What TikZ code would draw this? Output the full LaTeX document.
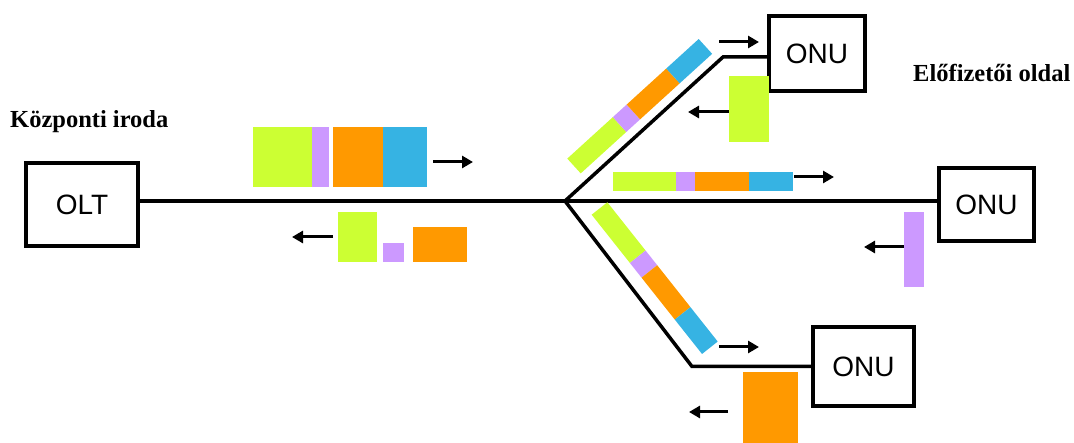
\documentclass[tikz,border=0pt]{standalone}
\usepackage{fontspec}
\setmainfont{Liberation Serif}
\newfontfamily\boxfont{Liberation Sans}
\usetikzlibrary{arrows.meta}
\definecolor{pgreen}{HTML}{CCFF33}
\definecolor{ppurple}{HTML}{CC99FF}
\definecolor{porange}{HTML}{FF9900}
\definecolor{pblue}{HTML}{36B3E3}
\tikzset{
  unitbox/.style={draw, line width=4.5pt, inner sep=0pt, font=\boxfont\fontsize{28}{30}\selectfont},
  fibre/.style={line width=4.5pt},
  branch/.style={line width=3.5pt},
  flow/.style={line width=3pt, -{Triangle[length=11pt,width=12pt]}},
  sidelabel/.style={anchor=base west, inner sep=0pt, font=\bfseries\fontsize{24.5}{26}\selectfont},
}
\newcommand{\smallpacket}{%
  \fill[pgreen] (0,-10) rectangle (61.6,10);
  \fill[ppurple] (61.6,-10) rectangle (80.3,10);
  \fill[porange] (80.3,-10) rectangle (133.8,10);
  \fill[pblue] (133.8,-10) rectangle (177.7,10);
}
\begin{document}
\begin{tikzpicture}[x=1pt,y=-1pt]
\useasboundingbox (0,0) rectangle (1074,443);

% labels
\node[sidelabel] (lco) at (10,128) {Központi iroda};
\node[sidelabel] (lsub) at (913,82) {Előfizetői oldal};

% boxes
\node[unitbox, minimum width=112pt, minimum height=83pt] (olt) at (82,204.5) {OLT};
\node[unitbox, minimum width=96pt, minimum height=75pt] (onu1) at (817,53.5) {ONU};
\node[unitbox, minimum width=95pt, minimum height=73pt] (onu2) at (986.5,204.5) {ONU};
\node[unitbox, minimum width=101pt, minimum height=79pt] (onu3) at (863.5,366.5) {ONU};

% fibres
\coordinate (sp) at (565,201);
\coordinate (ub) at (723,57);
\coordinate (lb) at (692,366.5);
\draw[fibre] (olt.east |- sp) -- (sp) -- (sp -| onu2.west);
\draw[branch, line join=miter] (sp) -- (ub) -- (ub -| onu1.west);
\draw[branch, line join=miter] (sp) -- (lb) -- (lb -| onu3.west);

% downstream packet near OLT
\fill[pgreen] (253,127) rectangle (312,187);
\fill[ppurple] (312,127) rectangle (329,187);
\fill[porange] (333,127) rectangle (383,187);
\fill[pblue] (383,127) rectangle (427,187);
\draw[flow] (433,162) -- (473,162);

% upstream packets near OLT
\fill[pgreen] (338,212) rectangle (377,262);
\fill[ppurple] (383,243) rectangle (404,262);
\fill[porange] (413,227) rectangle (467,262);
\draw[flow] (333,237) -- (292,237);

% middle branch downstream
\fill[pgreen] (613,172) rectangle (676,191);
\fill[ppurple] (676,172) rectangle (695,191);
\fill[porange] (695,172) rectangle (749,191);
\fill[pblue] (749,172) rectangle (793,191);
\draw[flow] (794,177) -- (834,177);

% middle ONU upstream
\fill[ppurple] (904,212) rectangle (924,287);
\draw[flow] (904,247) -- (864,247);

% upper branch
\begin{scope}[shift={(574,166)}, rotate=42.3]
\smallpacket
\end{scope}
\draw[flow] (719,42) -- (759,42);
\fill[pgreen] (729,76) rectangle (769,142);
\draw[flow] (729,112) -- (688,112);

% lower branch
\begin{scope}[shift={(599.5,208.5)}, rotate=-51.6]
\smallpacket
\end{scope}
\draw[flow] (719,347) -- (759,347);
\fill[porange] (743,372) rectangle (798,443);
\draw[flow] (728,412) -- (689,412);
\end{tikzpicture}
\end{document}
